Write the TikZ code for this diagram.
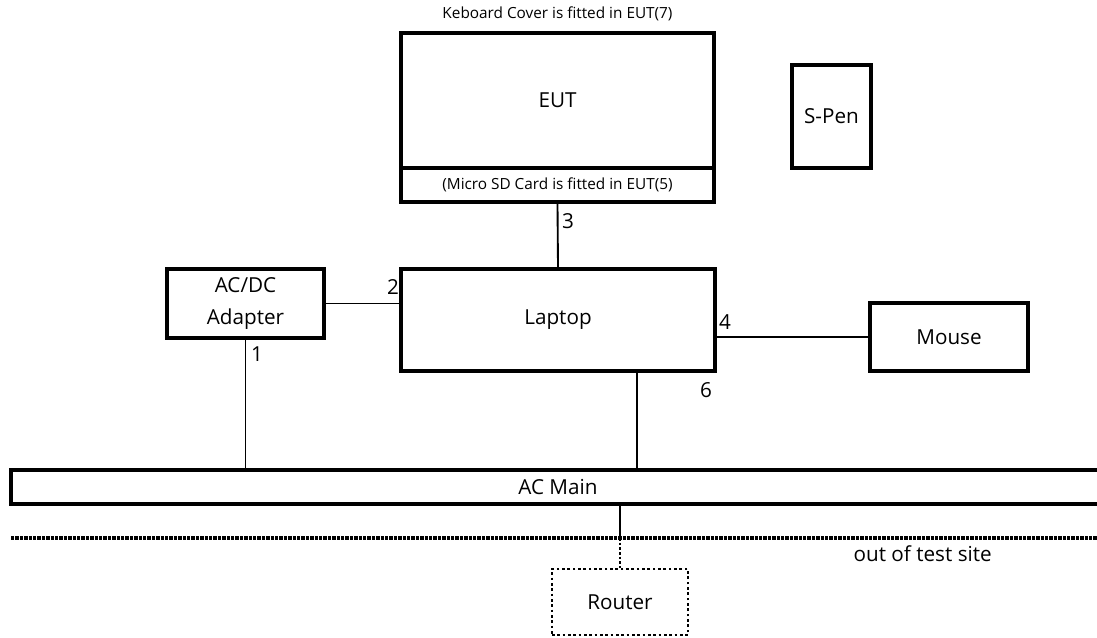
\documentclass[tikz,border=0pt]{standalone}
\usepackage{fontspec}
\setmainfont{Open Sans}
\usetikzlibrary{positioning,calc}

\tikzset{
  unit/.style={draw,line width=2.6pt,inner sep=0pt,align=center,font=\fontsize{15.5}{19}\selectfont},
  wire/.style={line width=1.4pt},
  num/.style={font=\fontsize{15.5}{19}\selectfont,inner sep=0pt},
}

\begin{document}
\begin{tikzpicture}[x=0.75pt,y=-0.75pt]
        \useasboundingbox (0,0) rectangle (1097,637);
        % units
        \node[unit,minimum width=234.75pt,minimum height=101.25pt] (eut) at (557.5,100.5) {EUT};
        \node[unit,minimum width=234.75pt,minimum height=25.5pt,font=\fontsize{11.5}{14}\selectfont]
          (sdcard) at (557.5,185) {(Micro SD Card is fitted in EUT(5)};
        \node[font=\fontsize{11.5}{14}\selectfont,above=4pt of eut] (cover) {Keboard Cover is fitted in EUT(7)};
        \node[unit,minimum width=59.25pt,minimum height=77.25pt] (spen) at (831.5,116.5) {S-Pen};
        \node[unit,minimum width=117.75pt,minimum height=51.75pt] (adapter) at (245.5,303.5) {AC/DC\\[5pt]Adapter};
        \node[unit,minimum width=235.5pt,minimum height=76.5pt] (laptop) at (558,320) {Laptop};
        \node[unit,minimum width=118.5pt,minimum height=51pt] (mouse) at (949,337) {Mouse};
        % ac main bar, open to the right
        \draw[line width=2.6pt] (1110,470) -- (11,470) -- (11,504) -- (1110,504);
        \node[num] (acmain) at (558,487) {AC Main};
        \coordinate (bartop) at (0,470);
        \coordinate (barbot) at (0,504);
        % site border
        \coordinate (sitel) at (11,538);
        \coordinate (siter) at (1097,538);
        \draw[line width=2.4pt,dash pattern=on 2.6pt off 0.7pt] (sitel) -- (siter);
        \node[num,anchor=north east] (outside) at (992,545) {out of test site};
        \node[unit,dash pattern=on 2pt off 2pt,line width=1.5pt,minimum width=102pt,minimum height=49.5pt]
          (router) at (620,602) {Router};
        % cables
        \coordinate (lapout) at ($(laptop.south west)!0.75!(laptop.south east)$);
        \draw[wire] (sdcard.south) -- (laptop.north);
        \draw[wire] (adapter.east) -- (laptop.west |- adapter.east);
        \draw[wire] (mouse.west) -- (laptop.east |- mouse.west);
        \draw[wire] (adapter.south) -- (adapter.south |- bartop);
        \draw[wire] (lapout) -- (lapout |- bartop);
        \draw[wire] (router.north |- barbot) -- (router.north |- sitel);
        \draw[wire,dash pattern=on 2pt off 1.5pt] (router.north |- sitel) -- (router.north);
        % cable numbers
        \node[num] (n1) at (257,354) {1};
        \node[num] (n2) at (393,287) {2};
        \node[num] (n3) at (568,221) {3};
        \node[num] (n4) at (725,322) {4};
        \node[num] (n6) at (706,390) {6};
\end{tikzpicture}
\end{document}
